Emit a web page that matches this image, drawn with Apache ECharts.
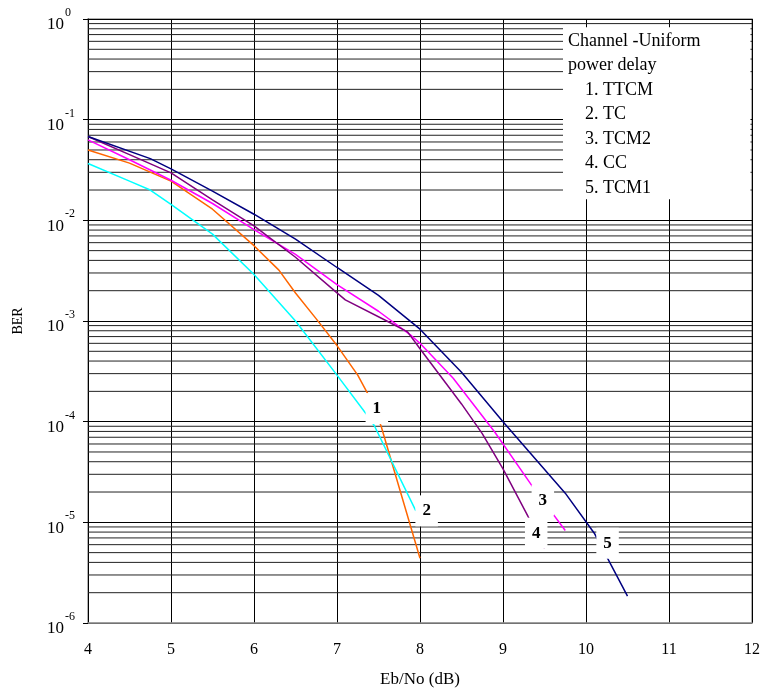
<!DOCTYPE html>
<html>
<head>
<meta charset="utf-8">
<script src="https://cdn.jsdelivr.net/npm/echarts@6/dist/echarts.min.js"></script>
<style>html,body{margin:0;padding:0;background:#fff;}#c{width:763px;height:693px;}</style>
</head>
<body>
<div id="c"></div>
<script>
// ---- data ----
const xTicks = [4, 5, 6, 7, 8, 9, 10, 11, 12];
const yExponents = [0, -1, -2, -3, -4, -5, -6];
const minorMultipliers = [2, 3, 4, 5, 6, 7, 8, 9];

const ttcmX = [4, 4.5, 5, 5.5, 6, 6.3, 6.5, 6.75, 7, 7.25, 7.37, 7.53, 8];
const ttcmY = [0.050, 0.037, 0.0245, 0.0129, 0.0056, 0.0032, 0.0019, 0.00105, 0.00057, 0.00029, 0.00019, 0.000091, 0.0000044];

const tcX = [4, 4.5, 4.75, 5, 5.5, 6, 6.5, 7, 7.35, 7.45, 7.95];
const tcY = [0.0367, 0.0245, 0.020, 0.0144, 0.0073, 0.0029, 0.0010, 0.00029, 0.00012, 0.000091, 0.000013];

const tcm2X = [4, 4.5, 5, 5.5, 6, 6.5, 7, 7.5, 7.9, 8, 8.4, 8.9, 9.35, 9.75];
const tcm2Y = [0.063, 0.040, 0.025, 0.0147, 0.0081, 0.0046, 0.0023, 0.00125, 0.00071, 0.0006, 0.00027, 0.000079, 0.000023, 0.0000083];

const ccX = [4, 4.5, 5, 5.5, 6, 6.5, 7, 7.1, 7.6, 7.85, 8, 8.5, 8.75, 9, 9.3, 9.5];
const ccY = [0.068, 0.045, 0.0296, 0.016, 0.0088, 0.0043, 0.0019, 0.00162, 0.0010, 0.00078, 0.00053, 0.00015, 0.000076, 0.000034, 0.0000115, 0.0000055];

const tcm1X = [4, 4.75, 5, 5.5, 6, 6.5, 7, 7.5, 8, 8.5, 9, 9.75, 10.1, 10.5];
const tcm1Y = [0.068, 0.041, 0.0325, 0.0195, 0.0115, 0.0065, 0.0034, 0.0018, 0.00083, 0.00031, 0.0001, 0.0000195, 0.0000078, 0.00000185];

const curveNames = ['1. TTCM', '2. TC', '3. TCM2', '4. CC', '5. TCM1'];
const curveTags = ['1', '2', '3', '4', '5'];
const tagX = [7.48, 8.08, 9.48, 9.40, 10.26];
const tagY = [0.000135, 0.000013, 0.0000166, 0.0000078, 0.0000062];

// ---- chart ----
const FONT = '"Liberation Serif", "Times New Roman", serif';
const zip = (xs, ys) => xs.map((x, i) => [x, ys[i]]);
const xMin = xTicks[0], xMax = xTicks[xTicks.length - 1];

const series = [];
// minor horizontal grid lines (2..9 x 10^e), drawn through the axes
yExponents.slice(1).forEach(e => minorMultipliers.forEach(m => {
  const v = m * Math.pow(10, e);
  series.push({
    type: 'line', data: [[xMin, v], [xMax, v]], z: 1, silent: true, showSymbol: false,
    animation: false, lineStyle: { color: '#222', width: 1 }, emphasis: { disabled: true }
  });
}));

const curves = [
  { x: ttcmX, y: ttcmY, color: '#FF6600' },
  { x: tcX, y: tcY, color: '#00FFFF' },
  { x: tcm2X, y: tcm2Y, color: '#FF00FF' },
  { x: ccX, y: ccY, color: '#800080' },
  { x: tcm1X, y: tcm1Y, color: '#000080' }
];
curves.forEach((c, i) => series.push({
  name: curveNames[i], type: 'line', data: zip(c.x, c.y), showSymbol: false, z: 3,
  lineStyle: { color: c.color, width: 1.5 }, itemStyle: { color: c.color }, animation: false
}));
series.push({
  type: 'scatter', z: 10, symbolSize: 0, animation: false, silent: true,
  itemStyle: { opacity: 1 },
  data: tagX.map((x, i) => [x, tagY[i], curveTags[i]]),
  label: {
    show: true, position: 'inside', formatter: p => p.data[2], opacity: 1,
    fontFamily: FONT, fontWeight: 'bold', fontSize: 17, color: '#000', lineHeight: 17,
    backgroundColor: '#fff', padding: [7, 7, 7, 7]
  }
});

const chart = echarts.init(document.getElementById('c'), null, { renderer: 'canvas' });
chart.setOption({
  animation: false,
  backgroundColor: '#fff',
  title: {
    text: '{h|Channel -Uniform}\n{h|power delay}\n' + curveNames.map(n => '{i|' + n + '}').join('\n'),
    left: 563, top: 24, backgroundColor: '#fff', padding: [5, 50, 2, 5],
    textStyle: {
      fontWeight: 'normal',
      rich: {
        h: { fontFamily: FONT, fontSize: 18, fontWeight: 'normal', lineHeight: 24.5, color: '#000' },
        i: { fontFamily: FONT, fontSize: 18, fontWeight: 'normal', lineHeight: 24.5, color: '#000', padding: [0, 0, 0, 17] }
      }
    }
  },
  grid: { left: 88, right: 9, top: 19, bottom: 68, show: true, borderColor: '#999', borderWidth: 1.5 },
  xAxis: {
    type: 'value', min: xMin, max: xMax, interval: 1,
    name: 'Eb/No (dB)', nameLocation: 'middle', nameGap: 48,
    nameTextStyle: { fontFamily: FONT, fontSize: 17, color: '#000' },
    axisLine: { show: true, lineStyle: { color: '#999', width: 1.5 } },
    axisTick: { show: false },
    axisLabel: { fontFamily: FONT, fontSize: 16, color: '#000', margin: 19 },
    splitLine: { show: true, lineStyle: { color: '#000', width: 1 } }
  },
  yAxis: {
    type: 'log', logBase: 10, min: Math.pow(10, yExponents[yExponents.length - 1]), max: Math.pow(10, yExponents[0]),
    splitNumber: 6,
    name: 'BER', nameLocation: 'middle', nameGap: 63,
    nameTextStyle: { fontFamily: FONT, fontSize: 14, color: '#000' },
    axisLine: { show: true, lineStyle: { color: '#000', width: 1 } },
    axisTick: { show: true, length: 5, lineStyle: { color: '#000' } },
    axisLabel: {
      align: 'left', margin: 41,
      formatter: v => '{b|10}{s|' + Math.round(Math.log10(v)) + '}',
      rich: {
        b: { fontFamily: FONT, fontSize: 17, color: '#000', padding: [12, 0, 0, 0] },
        s: { fontFamily: FONT, fontSize: 12, color: '#000', padding: [0, 0, 12, 1] }
      }
    },
    splitLine: { show: true, lineStyle: { color: '#000', width: 1 } }
  },
  series: series
});
</script>
</body>
</html>
